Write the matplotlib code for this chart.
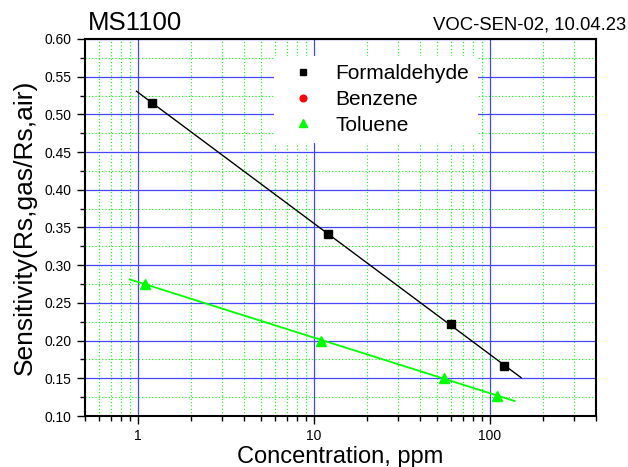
import numpy as np
import matplotlib
matplotlib.use("Agg")
import matplotlib.pyplot as plt
from matplotlib.ticker import LogLocator, MultipleLocator, NullFormatter, FuncFormatter

plt.rcParams['font.family'] = ['Liberation Sans', 'DejaVu Sans']

# Data
form_x = [1.2, 12, 60, 120]
form_y = [0.515, 0.342, 0.222, 0.166]
benz_x = []
benz_y = []
tol_x = [1.1, 11, 55, 110]
tol_y = [0.275, 0.200, 0.150, 0.127]
form_fit_range = [0.98, 150]
tol_fit_range = [0.9, 138]

fig = plt.figure(figsize=(6.28, 4.67), dpi=100)
ax = fig.add_axes([85/628, 1-416/467, 511/628, 377/467])
ax.set_xscale('log')
ax.set_xlim(0.5, 400)
ax.set_ylim(0.10, 0.60)

# fit lines
p = np.polyfit(np.log10(form_x), form_y, 1)
fx = np.array(form_fit_range)
ax.plot(fx, np.polyval(p, np.log10(fx)), color='black', lw=1.0, zorder=3)
p2 = np.polyfit(np.log10(tol_x), tol_y, 1)
tx = np.array(tol_fit_range)
ax.plot(tx, np.polyval(p2, np.log10(tx)), color='#00ff00', lw=1.3, zorder=3)

ax.plot(form_x, form_y, 's', color='black', ms=6, label='Formaldehyde', zorder=4)
ax.plot(benz_x, benz_y, 'o', color='red', ms=6, label='Benzene', zorder=4)
ax.plot(tol_x, tol_y, '^', color='#00ff00', ms=7, label='Toluene', zorder=4)

ax.yaxis.set_major_locator(MultipleLocator(0.05))
ax.yaxis.set_minor_locator(MultipleLocator(0.025))
ax.yaxis.set_major_formatter(FuncFormatter(lambda v, pos: f"{v:.2f}"))
ax.xaxis.set_major_locator(LogLocator(base=10, numticks=10))
ax.xaxis.set_minor_locator(LogLocator(base=10, subs=np.arange(2, 10), numticks=20))
ax.xaxis.set_minor_formatter(NullFormatter())
ax.xaxis.set_major_formatter(FuncFormatter(lambda v, pos: f"{v:g}"))

ax.grid(which='major', color='#4646ff', lw=0.9, ls='-', zorder=0)
ax.grid(which='minor', color='#00ff00', lw=0.8, ls=(0, (1, 2)), zorder=0)
ax.set_axisbelow(True)

ax.tick_params(which='major', direction='out', length=6, width=1, labelsize=10, top=False, right=False)
ax.tick_params(which='minor', direction='out', length=3.5, width=1, top=False, right=False)
for s in ax.spines.values():
    s.set_linewidth(1.5)

ax.set_xlabel('Concentration, ppm', fontsize=17, labelpad=2)
ax.set_ylabel('Sensitivity(Rs,gas/Rs,air)', fontsize=19, labelpad=6)

leg = ax.legend(loc='upper left', bbox_to_anchor=(0.37, 0.955), borderaxespad=0,
                fontsize=15, frameon=True, fancybox=False, framealpha=1,
                edgecolor='none', facecolor='white', handlelength=2.0,
                handletextpad=0.55, labelspacing=0.32, borderpad=0.4, markerscale=0.8)

fig.text(88/628, 1-30/467, 'MS1100', fontsize=18.5, ha='left', va='baseline')
fig.text(626/628, 1-29/467, 'VOC-SEN-02, 10.04.23', fontsize=13.3, ha='right', va='baseline')

fig.savefig('out.png', dpi=100)
